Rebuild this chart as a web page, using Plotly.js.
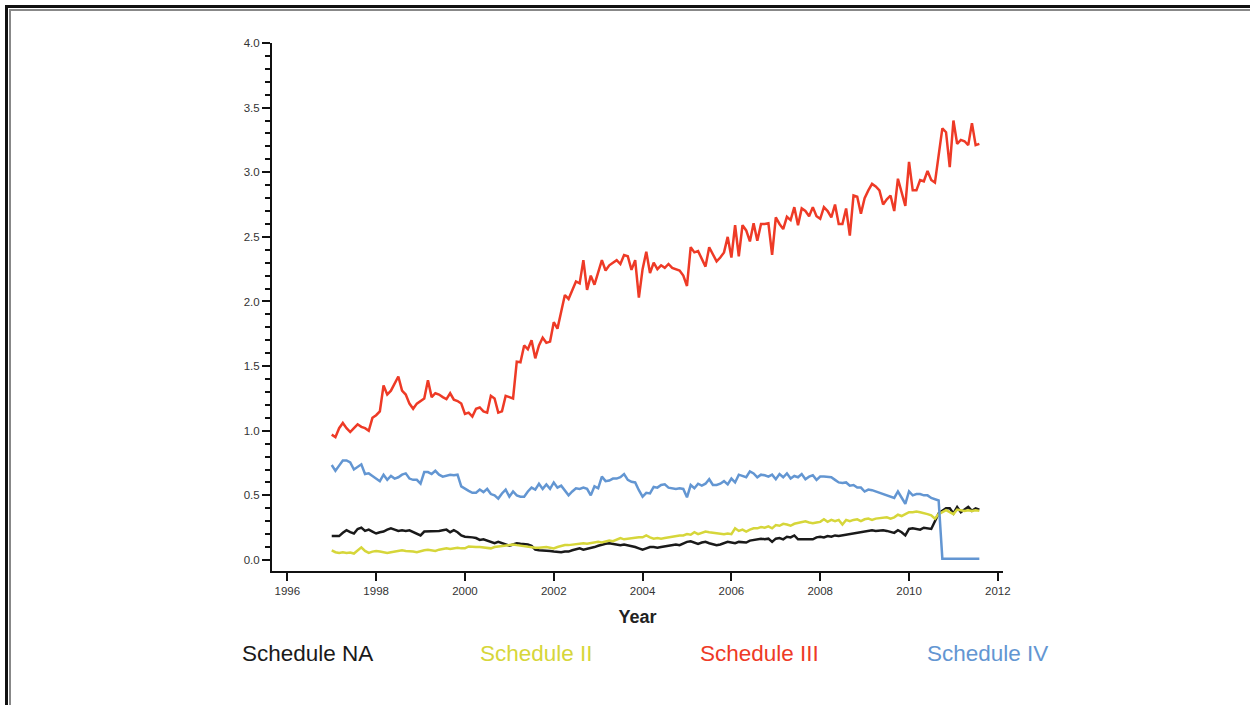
<!DOCTYPE html>
<html>
<head>
<meta charset="utf-8">
<script src="https://cdn.plot.ly/plotly-3.0.1.min.js"></script>
<style>
html,body{margin:0;padding:0;background:#fff;}
#wrap{position:relative;width:1250px;height:705px;overflow:hidden;}
#chart{position:absolute;left:0;top:0;width:1250px;height:705px;}
.bk{position:absolute;background:#111;}
.gr{position:absolute;background:#888;}
</style>
</head>
<body>
<div id="wrap">
<div id="chart"></div>
<div class="bk" style="left:5px;top:5px;width:1245px;height:3px;"></div>
<div class="bk" style="left:5px;top:5px;width:3px;height:700px;"></div>
<div class="gr" style="left:9px;top:9px;width:1241px;height:2px;"></div>
<div class="gr" style="left:9px;top:9px;width:2px;height:696px;"></div>
</div>
<script>
// Monthly series starting January 1997
const startYear = 1997;
const seriesNames = ["Schedule NA", "Schedule II", "Schedule III", "Schedule IV"];
const seriesColors = ["#1a1a1a", "#d6d63a", "#ee3a26", "#6396d2"];
const tickYears = [1996, 1998, 2000, 2002, 2004, 2006, 2008, 2010, 2012];

const scheduleNA = [
0.185,0.185,0.185,0.21,0.23,0.215,0.205,0.24,0.25,0.225,0.235,0.22,
0.205,0.215,0.22,0.235,0.245,0.235,0.225,0.23,0.225,0.23,0.215,0.20,
0.19,0.22,0.22,0.22,0.22,0.225,0.23,0.235,0.215,0.23,0.215,0.19,
0.18,0.18,0.175,0.17,0.155,0.16,0.15,0.14,0.13,0.14,0.13,0.12,
0.11,0.12,0.13,0.125,0.125,0.12,0.11,0.08,0.075,0.075,0.07,0.07,
0.065,0.06,0.06,0.065,0.065,0.075,0.08,0.09,0.08,0.085,0.09,0.10,
0.11,0.12,0.125,0.13,0.125,0.12,0.115,0.12,0.115,0.11,0.10,0.09,
0.08,0.09,0.10,0.10,0.095,0.10,0.105,0.11,0.115,0.12,0.115,0.13,
0.14,0.145,0.135,0.125,0.135,0.14,0.13,0.125,0.115,0.12,0.13,0.14,
0.135,0.13,0.14,0.14,0.135,0.15,0.155,0.155,0.165,0.16,0.165,0.14,
0.165,0.17,0.16,0.18,0.175,0.19,0.16,0.16,0.16,0.16,0.16,0.175,
0.18,0.175,0.185,0.18,0.19,0.185,0.19,0.19,0.195,0.20,0.21,0.215,
0.22,0.225,0.23,0.225,0.23,0.23,0.225,0.215,0.21,0.23,0.215,0.19,
0.24,0.245,0.24,0.235,0.25,0.245,0.24,0.30,0.36,0.38,0.40,0.40,
0.36,0.41,0.37,0.39,0.41,0.38,0.40,0.39
];
const scheduleII = [
0.075,0.06,0.055,0.06,0.055,0.058,0.05,0.075,0.098,0.07,0.055,0.065,
0.07,0.065,0.06,0.055,0.06,0.065,0.07,0.075,0.07,0.07,0.065,0.06,
0.07,0.075,0.08,0.075,0.07,0.08,0.085,0.09,0.085,0.09,0.095,0.09,
0.09,0.105,0.10,0.10,0.10,0.095,0.095,0.09,0.10,0.105,0.11,0.11,
0.115,0.12,0.115,0.11,0.105,0.10,0.10,0.095,0.095,0.10,0.10,0.095,
0.09,0.10,0.11,0.115,0.115,0.12,0.12,0.125,0.13,0.125,0.13,0.135,
0.14,0.135,0.14,0.15,0.145,0.155,0.17,0.16,0.165,0.17,0.17,0.175,
0.175,0.19,0.175,0.165,0.17,0.165,0.17,0.175,0.18,0.19,0.19,0.19,
0.20,0.195,0.215,0.20,0.21,0.22,0.215,0.21,0.21,0.205,0.20,0.205,
0.20,0.245,0.225,0.235,0.22,0.235,0.245,0.245,0.255,0.25,0.26,0.245,
0.27,0.265,0.28,0.275,0.265,0.28,0.285,0.29,0.30,0.29,0.285,0.29,
0.295,0.315,0.295,0.31,0.30,0.31,0.275,0.31,0.30,0.31,0.315,0.30,
0.315,0.32,0.31,0.32,0.325,0.325,0.33,0.32,0.33,0.35,0.34,0.355,
0.37,0.37,0.375,0.37,0.365,0.355,0.345,0.32,0.355,0.37,0.385,0.37,
0.355,0.39,0.385,0.38,0.385,0.38,0.385,0.38
];
const scheduleIII = [
0.97,0.95,1.02,1.06,1.02,0.99,1.02,1.05,1.03,1.02,1.00,1.10,
1.12,1.15,1.35,1.28,1.31,1.37,1.42,1.31,1.28,1.21,1.17,1.21,
1.23,1.25,1.39,1.26,1.29,1.28,1.26,1.245,1.29,1.24,1.23,1.21,
1.13,1.14,1.11,1.17,1.18,1.15,1.14,1.27,1.25,1.14,1.15,1.27,
1.26,1.25,1.535,1.53,1.66,1.63,1.70,1.56,1.66,1.72,1.68,1.69,
1.84,1.79,1.92,2.05,2.02,2.09,2.155,2.14,2.32,2.09,2.20,2.13,
2.22,2.32,2.24,2.28,2.30,2.32,2.29,2.36,2.35,2.245,2.32,2.03,
2.25,2.385,2.22,2.30,2.25,2.28,2.26,2.29,2.26,2.25,2.24,2.20,
2.12,2.42,2.38,2.39,2.33,2.27,2.42,2.36,2.31,2.34,2.38,2.50,
2.34,2.59,2.35,2.59,2.55,2.465,2.605,2.47,2.60,2.60,2.605,2.36,
2.65,2.60,2.56,2.655,2.63,2.73,2.59,2.72,2.70,2.66,2.73,2.66,
2.64,2.73,2.70,2.65,2.75,2.60,2.60,2.72,2.51,2.82,2.81,2.68,
2.80,2.86,2.91,2.89,2.86,2.75,2.79,2.82,2.70,2.95,2.85,2.74,
3.08,2.86,2.86,2.94,2.93,3.01,2.94,2.92,3.13,3.34,3.31,3.04,
3.40,3.22,3.25,3.24,3.21,3.38,3.21,3.22
];
const scheduleIV = [
0.735,0.69,0.73,0.77,0.77,0.755,0.70,0.72,0.74,0.665,0.67,0.65,
0.63,0.61,0.66,0.62,0.65,0.63,0.64,0.66,0.67,0.63,0.62,0.62,
0.59,0.68,0.68,0.665,0.69,0.66,0.645,0.655,0.66,0.655,0.66,0.57,
0.55,0.535,0.52,0.52,0.545,0.525,0.55,0.51,0.50,0.475,0.515,0.545,
0.49,0.53,0.50,0.49,0.49,0.53,0.56,0.545,0.59,0.55,0.585,0.55,
0.60,0.56,0.575,0.535,0.50,0.53,0.555,0.55,0.56,0.55,0.50,0.57,
0.555,0.645,0.61,0.615,0.63,0.63,0.64,0.665,0.62,0.605,0.60,0.54,
0.49,0.52,0.515,0.565,0.56,0.58,0.585,0.56,0.555,0.55,0.555,0.55,
0.485,0.58,0.555,0.59,0.575,0.59,0.625,0.58,0.58,0.59,0.61,0.585,
0.63,0.60,0.66,0.65,0.64,0.685,0.67,0.64,0.66,0.655,0.645,0.66,
0.625,0.665,0.64,0.67,0.63,0.65,0.64,0.665,0.625,0.645,0.655,0.62,
0.645,0.645,0.645,0.64,0.62,0.60,0.595,0.60,0.575,0.58,0.56,0.56,
0.53,0.545,0.54,0.53,0.52,0.51,0.50,0.49,0.48,0.53,0.48,0.435,
0.53,0.50,0.51,0.51,0.50,0.50,0.48,0.47,0.46,0.01,0.01,0.01,
0.01,0.01,0.01,0.01,0.01,0.01,0.01,0.01
];

const allSeries = [scheduleNA, scheduleII, scheduleIII, scheduleIV];
const months = scheduleIII.map((_, i) => startYear + i / 12);

const traces = allSeries.map((vals, k) => ({
  x: months,
  y: vals,
  type: "scatter",
  mode: "lines",
  name: seriesNames[k],
  line: {color: seriesColors[k], width: 2.5},
  showlegend: false,
  hoverinfo: "x+y+name"
}));

const FONT = "Liberation Sans, Arial, Helvetica, sans-serif";
const legendX = [-0.0438, 0.2818, 0.5828, 0.8933];
const annotations = seriesNames.map((n, k) => ({
  text: n, xref: "paper", yref: "paper",
  x: legendX[k], y: -0.157, xanchor: "left", yanchor: "middle",
  showarrow: false,
  font: {family: FONT, size: 22.5, color: seriesColors[k]}
}));

const layout = {
  width: 1250, height: 705,
  margin: {l: 272, r: 247, t: 43, b: 134},
  paper_bgcolor: "rgba(0,0,0,0)",
  plot_bgcolor: "#fff",
  showlegend: false,
  font: {family: FONT, color: "#333"},
  xaxis: {
    range: [1995.655, 2012.116],
    tickvals: tickYears,
    ticktext: tickYears.map(String),
    showgrid: false, zeroline: false,
    showline: true, linecolor: "#111", linewidth: 2,
    ticks: "outside", ticklen: 8, tickwidth: 2, tickcolor: "#111",
    tickfont: {family: FONT, size: 11.5, color: "#333"},
    title: {text: "<b>Year</b>", font: {family: FONT, size: 18, color: "#222"}, standoff: 15},
    automargin: false
  },
  yaxis: {
    range: [-0.0852, 4.0],
    tick0: 0, dtick: 0.5, tickformat: ".1f",
    showgrid: false, zeroline: false,
    showline: true, linecolor: "#111", linewidth: 2,
    ticks: "outside", ticklen: 8, tickwidth: 2, tickcolor: "#111",
    tickfont: {family: FONT, size: 11.5, color: "#333"},
    minor: {dtick: 0.1, tick0: 0, ticks: "outside", ticklen: 5, tickwidth: 2, tickcolor: "#111", showgrid: false},
    automargin: false
  },
  annotations: annotations
};

Plotly.newPlot("chart", traces, layout, {displayModeBar: false, staticPlot: true});
</script>
</body>
</html>
